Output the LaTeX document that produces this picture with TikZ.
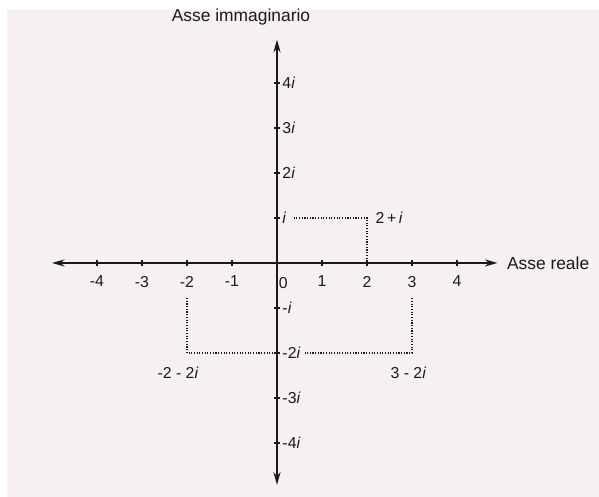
\documentclass[tikz,border=0pt]{standalone}
\usepackage{fontspec}
\setmainfont{Liberation Sans}
\usetikzlibrary{arrows.meta}
\definecolor{paperbg}{HTML}{F6EFF3}
\definecolor{inkdark}{HTML}{1A1A1A}

\begin{document}
\begin{tikzpicture}[
    axis/.style={{Stealth[length=8pt,width=4.5pt]}-{Stealth[length=8pt,width=4.5pt]}, inkdark, line width=1pt},
    tickmark/.style={inkdark, line width=0.8pt},
    guide/.style={inkdark, densely dotted, line width=0.7pt},
    lbl/.style={text=inkdark, font=\fontsize{10}{12}\selectfont, inner sep=1pt},
    axistitle/.style={text=inkdark, font=\fontsize{11}{13}\selectfont, inner sep=1pt},
  ]

  \useasboundingbox (-6.156,-5.2) rectangle (7.156,5.844);
  \fill[paperbg] (-6.0,-5.2) rectangle (7.156,5.62);

  \coordinate (xmin) at (-5,0);
  \coordinate (xmax) at (4.9,0);
  \coordinate (ymin) at (0,-4.93);
  \coordinate (ymax) at (0,4.96);

  % Axes
  \draw[axis] (xmin) -- (xmax);
  \draw[axis] (ymin) -- (ymax);

  % Ticks on the real axis
  \foreach \x [count=\k] in {-4,-3,-2,-1,1,2,3,4} {
    \draw[tickmark] (\x,-0.07) -- (\x,0.07);
    \node[lbl, anchor=north] (xt\k) at (\x,-0.25) {\x};
  }
  \node[lbl] (zero) at (0.14,-0.44) {0};

  % Ticks on the imaginary axis
  \foreach \y/\t [count=\k] in {1/{},2/2,3/3,4/4,-1/-,-2/-2,-3/-3,-4/-4} {
    \draw[tickmark] (-0.07,\y) -- (0.07,\y);
    \node[lbl, anchor=west] (yt\k) at (0.08,\y) {\t\textit{i}};
  }

  % Points
  \coordinate (pA) at (2,1);
  \coordinate (pB) at (-2,-2);
  \coordinate (pC) at (3,-2);

  \draw[guide] ([xshift=0.12cm]yt1.east) -- (pA) -- (pA |- xmin);
  \draw[guide] ([yshift=-0.2cm]xt3.south) -- (pB) -- (pB -| ymin);
  \draw[guide] ([yshift=-0.2cm]xt7.south) -- (pC) -- ([xshift=0.05cm]yt6.east);

  \node[lbl, anchor=west] (lA) at (2.15,1) {2\,+\,\textit{i}};
  \node[lbl] (lB) at (-2.2,-2.44) {-2 - 2\textit{i}};
  \node[lbl] (lC) at (2.92,-2.44) {3 - 2\textit{i}};

  % Axis titles
  \node[axistitle] (imtitle) at (-0.8,5.47) {Asse immaginario};
  \node[axistitle, anchor=west] (retitle) at (5.07,0) {Asse reale};

\end{tikzpicture}
\end{document}
